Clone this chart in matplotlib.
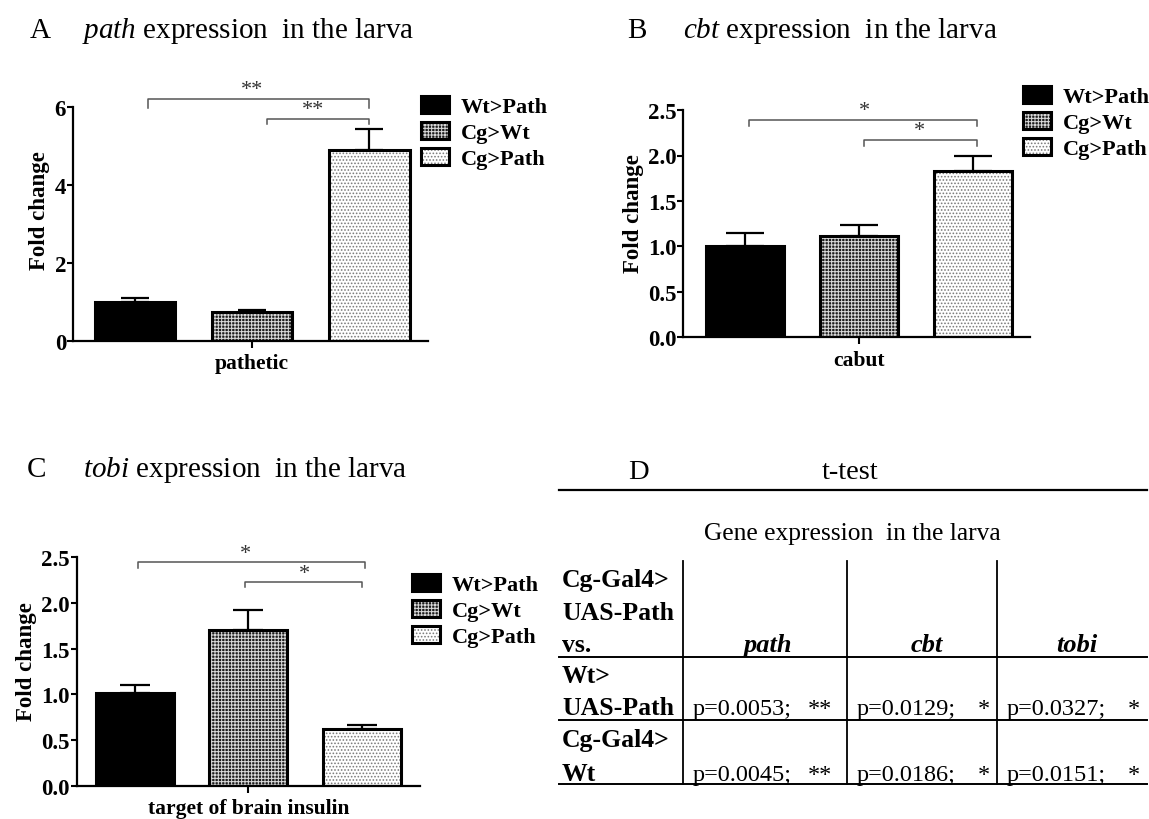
import matplotlib
matplotlib.use('Agg')
import matplotlib.pyplot as plt
from matplotlib.patches import Patch

plt.rcParams['font.family'] = ['Liberation Serif', 'DejaVu Serif']
plt.rcParams['mathtext.fontset'] = 'custom'
plt.rcParams['mathtext.rm'] = 'Liberation Serif'
plt.rcParams['mathtext.it'] = 'Liberation Serif:italic'
plt.rcParams['hatch.linewidth'] = 0.75

# data
groups = ['Wt>Path', 'Cg>Wt', 'Cg>Path']
path_mean = [1.00, 0.73, 4.90]
path_err = [0.09, 0.06, 0.54]
cbt_mean = [1.00, 1.11, 1.83]
cbt_err = [0.15, 0.12, 0.16]
tobi_mean = [1.01, 1.71, 0.62]
tobi_err = [0.09, 0.21, 0.05]

# significance brackets (group i vs group j, label)
path_sig = [(0, 2, '**'), (1, 2, '**')]
cbt_sig = [(0, 2, '*'), (1, 2, '*')]
tobi_sig = [(0, 2, '*'), (1, 2, '*')]

# t-test table
genes = ['path', 'cbt', 'tobi']
ref_label = ['Cg-Gal4>', 'UAS-Path', 'vs.']
row_labels = [['Wt>', 'UAS-Path'], ['Cg-Gal4>', 'Wt']]
pvals = [['p=0.0053;', 'p=0.0129;', 'p=0.0327;'],
         ['p=0.0045;', 'p=0.0186;', 'p=0.0151;']]
stars = [['**', '*', '*'],
         ['**', '*', '*']]

W, H = 1149, 820
fig = plt.figure(figsize=(W / 100, H / 100), dpi=100)

# background axes in pixel coordinates for titles and the table
bg = fig.add_axes([0, 0, 1, 1])
bg.set_xlim(0, W)
bg.set_ylim(H, 0)
bg.axis('off')

fills = [dict(facecolor='black', hatch=None, edgecolor='black'),
         dict(facecolor='#1c1c1c', hatch='+++++', edgecolor='#d8d8d8'),
         dict(facecolor='white', hatch='.....', edgecolor='#7a7a7a')]


def px_axes(left, right, y0, ppu, ytop):
    top = y0 - ytop * ppu
    return fig.add_axes([left / W, 1 - y0 / H, (right - left) / W, (y0 - top) / H])


def panel(ax, means, errs, sigs, xlim, ytop, yspan, yticks, ticklabels,
          xlabel, capsize, brackets, leg_xy):
    x = range(len(means))
    ax.bar(x, means, width=0.685, color=[f['facecolor'] for f in fills],
           edgecolor=[f['edgecolor'] for f in fills], linewidth=0, zorder=2)
    for i, f in enumerate(fills):
        if f['hatch']:
            ax.patches[i].set_hatch(f['hatch'])
    ax.bar(x, means, width=0.685, fill=False, edgecolor='black', linewidth=2.2, zorder=3)
    ax.errorbar(x, means, yerr=[[0] * len(means), errs], fmt='none', ecolor='black',
                elinewidth=1.6, capsize=capsize, capthick=1.6, zorder=1)
    ax.set_xlim(*xlim)
    ax.set_ylim(0, ytop)
    ax.spines['top'].set_visible(False)
    ax.spines['right'].set_visible(False)
    ax.spines['left'].set_bounds(0, yspan)
    ax.spines['left'].set_linewidth(1.6)
    ax.spines['bottom'].set_linewidth(1.6)
    ax.set_yticks(yticks)
    ax.set_yticklabels(ticklabels, fontsize=16.5, fontweight='bold')
    ax.set_xticks([1])
    ax.set_xticklabels([xlabel], fontsize=15.5, fontweight='bold')
    ax.tick_params(axis='y', length=4, width=1.5, pad=1)
    ax.tick_params(axis='x', length=5, width=1.5, pad=4)
    ax.set_ylabel('Fold change', fontsize=16.5, fontweight='bold', labelpad=3)
    # brackets
    for (i, j, lab), (xa, xb, yb, drop, ys, xs) in zip(sigs, brackets):
        ax.plot([xa, xa, xb, xb], [yb - drop, yb, yb, yb - drop], color='#555555',
                lw=1.1, clip_on=False, zorder=4)
        ax.text(xs, ys, lab, fontsize=16, color='#333333', ha='center', va='center')
    handles = [(Patch(**f, linewidth=0), Patch(fill=False, edgecolor='black', linewidth=2.2))
               for f in fills]
    ax.legend(handles, groups, loc='upper left', bbox_to_anchor=(leg_xy[0] / W, 1 - leg_xy[1] / H),
              bbox_transform=fig.transFigure, frameon=False, borderpad=0, borderaxespad=0,
              handlelength=1.25, handleheight=0.8, handletextpad=0.55, labelspacing=0.22,
              prop={'weight': 'bold', 'size': 16})


# panel A
axA = px_axes(73, 428, 341.7, 39.0, 6.7)
panel(axA, path_mean, path_err, path_sig, (-0.526, 2.5), 6.7, 6, [0, 2, 4, 6],
      ['0', '2', '4', '6'], 'pathetic', 10,
      [(0.11, 2.0, 6.20, 0.23, 6.43, 1.0), (1.13, 2.0, 5.68, 0.13, 5.92, 1.52)],
      (421, 97))

# panel B
axB = px_axes(683.4, 1030, 338.3, 90.9, 2.75)
panel(axB, cbt_mean, cbt_err, cbt_sig, (-0.545, 2.5), 2.75, 2.5,
      [0, 0.5, 1.0, 1.5, 2.0, 2.5], ['0.0', '0.5', '1.0', '1.5', '2.0', '2.5'], 'cabut', 13.5,
      [(0.03, 2.03, 2.39, 0.07, 2.49, 1.05), (1.04, 2.03, 2.17, 0.06, 2.27, 1.53)],
      (1023, 87))

# panel C
axC = px_axes(76.8, 419.6, 786.7, 91.3, 2.75)
panel(axC, tobi_mean, tobi_err, tobi_sig, (-0.51, 2.506), 2.75, 2.5,
      [0, 0.5, 1.0, 1.5, 2.0, 2.5], ['0.0', '0.5', '1.0', '1.5', '2.0', '2.5'],
      'target of brain insulin', 10.5,
      [(0.03, 2.03, 2.453, 0.07, 2.54, 0.97), (0.97, 2.0, 2.234, 0.055, 2.32, 1.49)],
      (412, 575))

# panel titles
title_kw = dict(fontsize=21, va='baseline', ha='left')
bg.text(30, 38, 'A', **title_kw)
bg.text(82, 38, r'$path$ expression  in the larva', **title_kw)
bg.text(627, 38, 'B', **title_kw)
bg.text(683, 38, r'$cbt$ expression  in the larva', **title_kw)
bg.text(27, 477, 'C', **title_kw)
bg.text(83, 477, r'$tobi$ expression  in the larva', **title_kw)

# panel D: t-test table
bg.text(638, 479, 'D', fontsize=20.5, ha='center', va='baseline')
bg.text(850, 479, 't-test', fontsize=20.5, ha='center', va='baseline')
bg.plot([559, 1147], [490.5, 490.5], color='black', lw=1.6)
bg.text(852, 540, 'Gene expression  in the larva', fontsize=18.4, ha='center', va='baseline')

col_edges = [559, 683, 847, 997, 1147]
row_lines = [658, 721, 785]
for xv in col_edges[1:-1]:
    bg.plot([xv, xv], [562, 785], color='black', lw=1.3)
for yv in row_lines:
    bg.plot([col_edges[0], col_edges[-1]], [yv, yv], color='black', lw=1.4)

lab_kw = dict(fontsize=18.5, fontweight='bold', ha='left', va='baseline')
for txt, yv in zip(ref_label, [587, 620, 652]):
    bg.text(562, yv, txt, **lab_kw)
for g, xc in zip(genes, [768, 927, 1077]):
    bg.text(xc, 652, g, fontsize=19, fontweight='bold', style='italic', ha='center', va='baseline')

star_pad = [15, 7, 7]
row_base = [[683, 715], [747, 781]]
for r in range(len(row_labels)):
    for txt, yv in zip(row_labels[r], row_base[r]):
        bg.text(562, yv, txt, **lab_kw)
    for c in range(len(genes)):
        bg.text(col_edges[c + 1] + 10, row_base[r][1], pvals[r][c], fontsize=17.5,
                ha='left', va='baseline')
        bg.text(col_edges[c + 2] - star_pad[c], row_base[r][1], stars[r][c], fontsize=17.5,
                ha='right', va='baseline')

fig.savefig('out.png', dpi=100)
